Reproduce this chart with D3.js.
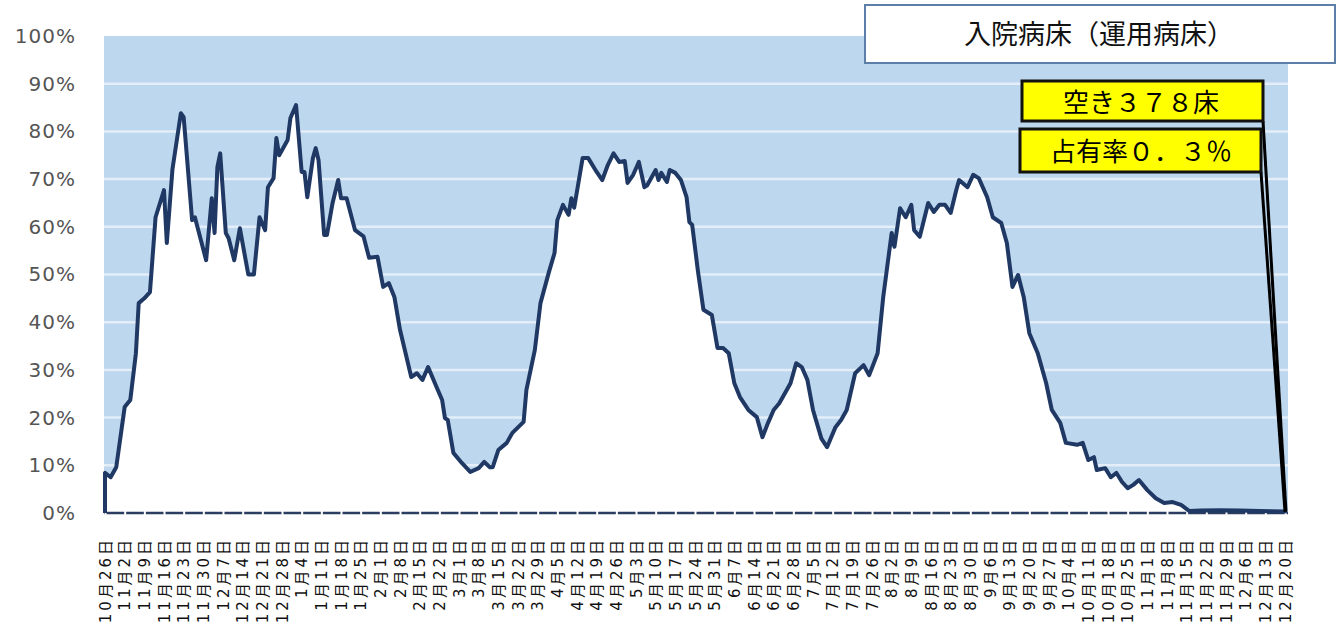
<!DOCTYPE html>
<html><head><meta charset="utf-8">
<script src="https://cdn.jsdelivr.net/npm/d3@7"></script>
<style>body{margin:0;background:#fff}svg{display:block}</style>
</head><body><svg id="c" width="1337" height="641"></svg>
<script>
const dates = [
"2020-10-26","2020-10-28","2020-10-30","2020-11-01","2020-11-02","2020-11-04","2020-11-06","2020-11-07","2020-11-09","2020-11-11",
"2020-11-13","2020-11-16","2020-11-17","2020-11-19","2020-11-22","2020-11-23","2020-11-26","2020-11-27","2020-12-01","2020-12-03",
"2020-12-04","2020-12-05","2020-12-06","2020-12-08","2020-12-09","2020-12-11","2020-12-13","2020-12-16","2020-12-18","2020-12-20",
"2020-12-22","2020-12-23","2020-12-25","2020-12-26","2020-12-27","2020-12-30","2020-12-31","2021-01-02","2021-01-04","2021-01-05",
"2021-01-06","2021-01-08","2021-01-09","2021-01-10","2021-01-12","2021-01-13","2021-01-15","2021-01-17","2021-01-18","2021-01-20",
"2021-01-23","2021-01-26","2021-01-28","2021-01-31","2021-02-02","2021-02-04","2021-02-06","2021-02-08","2021-02-12","2021-02-14",
"2021-02-16","2021-02-18","2021-02-21","2021-02-23","2021-02-24","2021-02-25","2021-02-27","2021-03-02","2021-03-05","2021-03-08",
"2021-03-10","2021-03-12","2021-03-13","2021-03-15","2021-03-18","2021-03-20","2021-03-24","2021-03-25","2021-03-28","2021-03-30",
"2021-04-02","2021-04-04","2021-04-05","2021-04-07","2021-04-09","2021-04-10","2021-04-11","2021-04-14","2021-04-16","2021-04-19",
"2021-04-21","2021-04-23","2021-04-25","2021-04-27","2021-04-29","2021-04-30","2021-05-02","2021-05-04","2021-05-06","2021-05-07",
"2021-05-10","2021-05-11","2021-05-12","2021-05-14","2021-05-15","2021-05-17","2021-05-19","2021-05-21","2021-05-22","2021-05-23",
"2021-05-25","2021-05-27","2021-05-30","2021-06-01","2021-06-03","2021-06-05","2021-06-07","2021-06-09","2021-06-12","2021-06-15",
"2021-06-17","2021-06-19","2021-06-21","2021-06-23","2021-06-27","2021-06-29","2021-07-01","2021-07-03","2021-07-05","2021-07-08",
"2021-07-10","2021-07-13","2021-07-15","2021-07-17","2021-07-20","2021-07-23","2021-07-25","2021-07-28","2021-07-30","2021-08-02",
"2021-08-03","2021-08-05","2021-08-07","2021-08-09","2021-08-10","2021-08-12","2021-08-15","2021-08-17","2021-08-19","2021-08-21",
"2021-08-23","2021-08-25","2021-08-26","2021-08-29","2021-08-31","2021-09-02","2021-09-05","2021-09-07","2021-09-10","2021-09-12",
"2021-09-14","2021-09-16","2021-09-18","2021-09-20","2021-09-23","2021-09-26","2021-09-28","2021-10-01","2021-10-03","2021-10-07",
"2021-10-09","2021-10-11","2021-10-13","2021-10-14","2021-10-17","2021-10-19","2021-10-21","2021-10-23","2021-10-25","2021-10-27",
"2021-10-29","2021-11-01","2021-11-04","2021-11-07","2021-11-10","2021-11-13","2021-11-16","2021-11-20","2021-11-27","2021-12-04",
"2021-12-11","2021-12-20"
];
const occupancy = [
8.4,7.5,9.6,18.0,22.2,23.7,33.5,44.0,45.0,46.3,
62.0,67.7,56.6,72.0,83.8,83.0,61.4,62.0,53.0,66.0,
58.7,72.5,75.4,58.7,57.6,53.0,59.7,50.0,50.0,62.0,
59.3,68.3,70.2,78.6,75.0,78.2,82.8,85.5,71.5,71.5,
66.2,74.4,76.5,74.0,58.3,58.3,65.0,69.8,66.0,66.0,
59.3,58.0,53.5,53.7,47.4,48.2,45.3,38.4,28.5,29.3,
27.9,30.6,26.4,23.7,19.9,19.5,12.6,10.5,8.6,9.4,
10.7,9.6,9.6,13.2,14.7,16.8,19.1,25.8,34.2,44.0,
50.5,54.5,61.4,64.6,62.5,66.0,64.0,74.4,74.4,71.5,
69.8,73.0,75.4,73.6,73.8,69.2,70.9,73.6,68.3,68.7,
71.9,69.8,71.3,69.4,71.9,71.3,69.8,66.2,61.0,60.4,
50.9,42.6,41.5,34.6,34.6,33.5,27.2,24.3,21.6,20.1,
15.9,18.9,21.6,23.0,27.2,31.4,30.6,27.9,21.6,15.6,
13.8,18.0,19.5,21.6,29.3,31.0,28.9,33.5,45.3,58.7,
55.8,63.9,62.0,64.6,59.3,57.9,65.0,63.1,64.6,64.6,
62.9,67.7,69.8,68.3,70.9,70.2,66.2,62.0,60.8,56.6,
47.4,49.9,45.3,37.7,33.5,27.2,21.6,18.9,14.7,14.3,
14.7,11.1,11.7,9.0,9.4,7.5,8.4,6.5,5.2,5.9,
6.9,4.8,3.1,2.1,2.3,1.7,0.4,0.5,0.6,0.5,
0.4,0.3
];
const tickLabels = [
"10月26日","11月2日","11月9日","11月16日","11月23日","11月30日","12月7日","12月14日","12月21日","12月28日",
"1月4日","1月11日","1月18日","1月25日","2月1日","2月8日","2月15日","2月22日","3月1日","3月8日",
"3月15日","3月22日","3月29日","4月5日","4月12日","4月19日","4月26日","5月3日","5月10日","5月17日",
"5月24日","5月31日","6月7日","6月14日","6月21日","6月28日","7月5日","7月12日","7月19日","7月26日",
"8月2日","8月9日","8月16日","8月23日","8月30日","9月6日","9月13日","9月20日","9月27日","10月4日",
"10月11日","10月18日","10月25日","11月1日","11月8日","11月15日","11月22日","11月29日","12月6日","12月13日",
"12月20日"
];
const yTickValues = [0,10,20,30,40,50,60,70,80,90,100];
const titleText = "入院病床（運用病床）";
const vacantText = "空き３７８床";
const rateText = "占有率０．３％";

const parse = d3.utcParse("%Y-%m-%d");
const data = dates.map((d, i) => ({date: parse(d), v: occupancy[i]}));
const start = parse("2020-10-26"), end = parse("2021-12-20");
const x = d3.scaleUtc().domain([start, end]).range([105, 1285]);
const y = d3.scaleLinear().domain([0, 100]).range([513, 36]);
const svg = d3.select("#c");
const CJK = "'Noto Sans CJK JP', sans-serif";

// plot background
svg.append("rect").attr("x", 104).attr("y", 36).attr("width", 1184).attr("height", 477).attr("fill", "#bdd7ee");
// gridlines
svg.append("g").selectAll("line").data(yTickValues.filter(v => v > 0 && v < 100)).join("line")
  .attr("x1", 104).attr("x2", 1288).attr("y1", d => y(d)).attr("y2", d => y(d))
  .attr("stroke", "#e3eef9").attr("stroke-width", 2.5);
// white area
svg.append("path").datum(data).attr("fill", "#fff")
  .attr("d", d3.area().x(d => x(d.date)).y0(y(0)).y1(d => y(d.v)));

// x axis
const tickDates = tickLabels.map((_, i) => d3.utcDay.offset(start, 7 * i));
const gx = svg.append("g").attr("transform", `translate(0,${y(0)})`)
  .call(d3.axisBottom(x).tickValues(tickDates).tickFormat((d, i) => tickLabels[i]).tickSize(0).tickSizeOuter(0));
gx.select(".domain").attr("stroke", "#2b3d60").attr("stroke-width", 2.5).attr("d", "M104,0H1288");
gx.selectAll(".tick line").attr("y1", -2).attr("y2", 2).attr("stroke", "#fff").attr("stroke-width", 2);
gx.selectAll(".tick text")
  .attr("transform", "rotate(-90)").attr("x", -24).attr("y", 0).attr("dy", "0.35em")
  .attr("text-anchor", "end").attr("fill", "#111")
  .style("font-family", "'DejaVu Sans', 'Noto Sans CJK JP', sans-serif").style("font-size", "15px")
  .style("letter-spacing", "3px");

// line
svg.append("line").attr("x1", x(data[0].date)).attr("x2", x(data[0].date))
  .attr("y1", y(0)).attr("y2", y(data[0].v)).attr("stroke", "#1f3864").attr("stroke-width", 4);
svg.append("path").datum(data).attr("fill", "none").attr("stroke", "#1f3864")
  .attr("stroke-width", 4).attr("stroke-linejoin", "round").attr("stroke-linecap", "round")
  .attr("d", d3.line().x(d => x(d.date)).y(d => y(d.v)));

// y axis
const gy = svg.append("g").attr("transform", "translate(76,0)")
  .call(d3.axisLeft(y).tickValues(yTickValues).tickFormat(d => d + "%").tickSize(0).tickPadding(0));
gy.select(".domain").remove();
gy.selectAll(".tick text").attr("fill", "#555")
  .style("font-family", "'DejaVu Sans', sans-serif").style("font-size", "20px").style("letter-spacing", "1px");

// title box
svg.append("rect").attr("x", 865).attr("y", 5).attr("width", 470).attr("height", 58)
  .attr("fill", "#fff").attr("stroke", "#5b7fa8").attr("stroke-width", 2);
svg.append("text").attr("x", 1099).attr("y", 44).attr("text-anchor", "middle")
  .style("font-family", CJK).style("font-size", "27px").attr("fill", "#111").text(titleText);

// leader lines
const last = data[data.length - 1];
svg.append("line").attr("x1", 1263).attr("y1", 121).attr("x2", x(last.date) + 1).attr("y2", y(last.v))
  .attr("stroke", "#000").attr("stroke-width", 3);
svg.append("line").attr("x1", 1261).attr("y1", 172).attr("x2", x(last.date)).attr("y2", y(last.v))
  .attr("stroke", "#000").attr("stroke-width", 3);

// yellow boxes
svg.append("rect").attr("x", 1022).attr("y", 81).attr("width", 241).attr("height", 40)
  .attr("fill", "#ffff00").attr("stroke", "#111").attr("stroke-width", 3);
svg.append("text").attr("x", 1141).attr("y", 112).attr("text-anchor", "middle")
  .style("font-family", CJK).style("font-size", "26px").attr("fill", "#000").text(vacantText);
svg.append("rect").attr("x", 1020).attr("y", 129).attr("width", 241).attr("height", 43)
  .attr("fill", "#ffff00").attr("stroke", "#111").attr("stroke-width", 3);
svg.append("text").attr("x", 1141).attr("y", 161).attr("text-anchor", "middle")
  .style("font-family", CJK).style("font-size", "26px").attr("fill", "#000").text(rateText);
</script></body></html>
